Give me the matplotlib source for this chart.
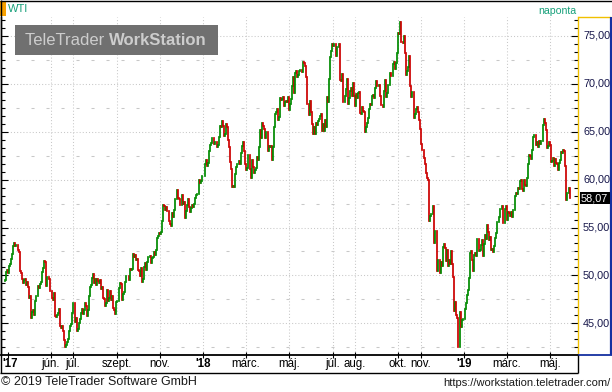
import numpy as np
import matplotlib
matplotlib.use("Agg")
import matplotlib.pyplot as plt
from matplotlib.ticker import MultipleLocator
from matplotlib.transforms import blended_transform_factory
from matplotlib.lines import Line2D
from matplotlib.patches import Rectangle

plt.rcParams['font.family'] = ['Liberation Sans', 'DejaVu Sans']
plt.rcParams['lines.scale_dashes'] = False

# ---------------- data (daily closes, weekdays) ----------------
start_date = '2017-03-29'
first_open = 49.37

close_2017 = [
    49.51, 50.35, 50.60,
    50.24, 51.03, 51.15, 51.70, 52.24, 53.08, 53.40, 53.11, 53.18, 53.18,
    52.65, 52.41, 50.44, 50.27, 49.62, 49.23, 49.56, 49.62, 48.97, 49.33,
    48.84, 47.66, 47.82, 45.52, 46.22, 46.43, 45.88, 47.33, 47.83, 47.84,
    48.85, 48.66, 49.07, 49.35, 50.33, 50.73, 51.47, 51.36, 48.90, 49.80,
    49.80, 49.66, 48.32,
    48.36, 47.66, 47.40, 48.19, 45.72, 45.64, 45.83, 46.08, 46.46, 44.73,
    44.46, 44.74, 44.20, 43.23, 42.53, 42.74, 43.01, 43.38, 44.24, 44.74,
    44.93, 46.04,
    47.07, 47.07, 45.13, 45.52, 44.23, 44.40, 45.04, 45.49, 46.08, 46.54,
    46.02, 46.40, 47.12, 46.79, 45.77, 46.34, 47.89, 48.75, 49.04, 49.71,
    50.17,
    49.16, 49.59, 49.03, 49.58, 49.39, 49.17, 49.56, 48.59, 48.82, 47.59,
    47.55, 46.78, 47.09, 48.51, 47.37, 47.64, 48.41, 47.43, 47.87, 46.57,
    46.44, 45.96, 47.23,
    47.29, 47.29, 48.66, 49.16, 49.09, 47.48, 48.07, 48.23, 49.30, 49.89,
    49.89, 49.91, 49.48, 50.69, 50.55, 50.66, 52.22, 51.88, 52.14, 51.56,
    51.67,
    50.58, 50.42, 49.98, 50.79, 49.29, 49.58, 50.92, 51.30, 50.60, 51.45,
    51.87, 51.88, 52.04, 51.29, 51.84, 51.90, 52.47, 52.18, 52.64, 53.90,
    54.15, 54.38,
    54.30, 54.54, 55.64, 57.35, 57.20, 56.81, 57.17, 56.74, 56.76, 55.70,
    55.33, 55.14, 56.55, 56.09, 56.83, 58.02, 58.02, 58.95, 58.11, 57.99,
    57.30, 57.40,
    58.36, 57.47, 57.62, 55.96, 56.69, 57.36, 57.99, 57.14, 56.60, 57.04,
    57.30, 57.16, 57.46, 58.09, 58.36, 58.47, 58.47, 59.97, 59.64, 59.84,
    60.42,
]

close_2018 = [
    60.42, 60.37, 61.63, 62.01, 61.44, 61.73, 62.96, 63.57, 63.80, 64.30,
    64.30, 63.73, 63.97, 63.95, 63.37, 63.57, 64.47, 65.61, 65.51, 66.14,
    65.56, 64.50, 64.73,
    65.80, 65.45, 64.15, 63.39, 61.79, 61.15, 59.20, 59.29, 59.19, 60.60,
    61.34, 61.68, 61.68, 61.90, 61.68, 62.77, 63.55, 63.91, 63.01, 61.64,
    60.99, 61.25, 62.57, 62.60, 61.15, 60.12, 62.04, 61.36, 60.71, 60.96,
    61.19, 62.34, 62.06, 63.40, 65.17, 64.30, 65.88, 65.55, 65.25, 64.38,
    64.94, 64.94,
    63.01, 63.51, 63.37, 63.54, 62.06, 63.42, 65.51, 66.82, 67.07, 67.39,
    66.22, 66.52, 68.47, 68.29, 68.38, 68.64, 67.70, 68.05, 68.19, 68.10,
    68.57,
    67.25, 67.93, 68.43, 69.72, 70.73, 69.06, 71.14, 71.36, 70.70, 70.96,
    71.31, 71.49, 71.49, 71.28, 72.24, 72.13, 71.84, 70.71, 67.88, 67.88,
    66.73, 68.21, 67.04,
    65.81, 64.75, 65.52, 64.73, 65.95, 65.74, 66.10, 66.36, 66.64, 66.89,
    65.06, 65.85, 65.07, 66.22, 65.54, 68.58, 68.08, 70.53, 72.76, 73.45,
    74.15,
    73.94, 74.14, 74.14, 72.94, 73.80, 73.85, 74.11, 70.38, 70.33, 71.01,
    68.06, 68.08, 68.76, 69.46, 70.46, 67.89, 68.52, 69.30, 69.61, 68.69,
    70.13, 68.76,
    67.66, 68.96, 68.49, 69.01, 69.17, 66.94, 66.81, 67.63, 67.20, 67.04,
    65.01, 65.46, 65.91, 66.43, 67.35, 67.86, 67.83, 68.72, 68.87, 68.53,
    69.51, 70.25, 69.80,
    69.80, 69.87, 68.72, 67.77, 67.75, 67.54, 69.25, 70.37, 68.59, 68.99,
    69.85, 69.85, 71.12, 70.80, 70.78, 72.08, 72.28, 71.57, 72.12, 73.25,
    75.30, 75.23, 76.41, 74.33, 74.34, 74.29, 74.96, 73.17, 70.97, 71.34,
    71.78, 72.92, 69.75, 68.65, 69.12, 69.17, 66.43, 66.82, 67.33, 67.59,
    67.04, 66.18, 65.31,
    63.69, 63.14, 63.10, 62.21, 61.67, 60.67, 60.19, 59.93, 55.69, 56.25,
    56.46, 56.46, 57.20, 53.43, 54.63, 54.63, 50.42, 51.63, 51.56, 50.29,
    51.45, 50.93,
    52.95, 53.25, 52.89, 51.49, 52.61, 51.00, 51.65, 51.15, 52.58, 51.20,
    49.88, 46.24, 47.20, 45.88, 45.59, 42.53, 42.53, 46.22, 44.61, 45.33,
    45.41,
]

close_2019 = [
    45.41, 46.54, 47.09, 47.96, 48.52, 49.78, 52.36, 52.59, 51.59, 50.51,
    52.11, 52.31, 52.07, 53.80, 53.80, 52.57, 52.62, 53.13, 53.69, 51.99,
    53.31, 54.23, 53.79,
    55.26, 54.56, 53.66, 54.01, 52.64, 52.72, 52.41, 53.10, 53.90, 54.41,
    55.59, 55.59, 56.09, 56.92, 56.96, 57.26, 55.48, 55.50, 56.94, 57.22,
    55.80, 56.59, 56.56, 56.22, 56.66, 56.07, 56.79, 56.87, 58.26, 58.61,
    58.52, 59.09, 59.03, 59.83, 59.98, 59.04, 58.82, 59.94, 59.41, 59.30,
    60.14,
    61.59, 62.58, 62.46, 62.10, 63.08, 64.40, 64.61, 64.61, 63.58, 63.89,
    63.40, 64.05, 63.76, 64.00, 64.00, 65.70, 66.30, 65.89, 65.21, 63.30,
    63.50, 63.91,
    63.60, 61.81, 61.94, 62.25, 61.40, 62.12, 61.70, 61.66, 61.04, 61.78,
    62.02, 62.87, 62.76, 63.10, 62.99, 61.42, 57.91, 58.63, 58.63, 59.14,
    58.07,
]

tick_months = ['2017-04', '2017-06', '2017-07', '2017-09', '2017-11',
               '2018-01', '2018-03', '2018-05', '2018-07', '2018-08',
               '2018-10', '2018-11', '2019-01', '2019-03', '2019-05']
tick_labels = ["'17", "jún.", "júl.", "szept.", "nov.", "'18", "márc.",
               "máj.", "júl.", "aug.", "okt.", "nov.", "'19", "márc.", "máj."]

# ---------------- derived ----------------
closes = np.array(close_2017 + close_2018 + close_2019)
opens = np.concatenate([[first_open], closes[:-1]])
base = np.datetime64('2017-03-27')
first_idx = np.busday_count(base, np.datetime64(start_date))
x = first_idx + np.arange(len(closes))
lo = np.minimum(opens, closes)
hi = np.maximum(opens, closes)
up = closes >= opens
cols = np.where(up, '#008a00', '#cc0000')

tick_pos = [np.busday_count(base, np.busday_offset(np.datetime64(m + '-01'), 0, roll='forward'))
            for m in tick_months]

# ---------------- figure ----------------
W, H = 612, 392
fig = plt.figure(figsize=(W / 100, H / 100), dpi=100)
fig.patch.set_facecolor('white')

def fx(px):
    return px / W

def fy(py):
    return 1 - py / H

L, R, T, B = 0.5, 578.0, 17.0, 354.5
ax = fig.add_axes([fx(L), fy(B), fx(R) - fx(L), fy(T) - fy(B)])
ax.set_facecolor('white')

ax.set_xlim(L - 3, R - 3)
ppd = 9.58
ax.set_ylim(45 - (B - 323.3) / ppd, 45 + (323.3 - T) / ppd)

gcol = '#c8c8c8'
for v in np.arange(45, 80, 5):
    ax.axhline(v, color=gcol, lw=0.75, ls=(0, (0.75, 1.5)), zorder=0)
for v in np.arange(42.5, 80, 5):
    ax.axhline(v, color=gcol, lw=0.75, ls=(10.8, (2.2, 8.6)), zorder=0)
for p in tick_pos[1:]:
    ax.axvline(p, color=gcol, lw=0.75, ls=(0, (0.75, 1.5)), zorder=0)

lc = ax.vlines(x, lo, hi, colors=cols, linewidth=1.25, zorder=3)
lc.set_capstyle('projecting')

ax.yaxis.set_major_locator(MultipleLocator(5))
ax.yaxis.set_minor_locator(MultipleLocator(5 / 6))
ax.tick_params(axis='y', which='both', direction='in', left=True, right=True,
               labelleft=False, labelright=False, color='black', width=0.8)
ax.tick_params(axis='y', which='major', length=5)
ax.tick_params(axis='y', which='minor', length=3)
ax.set_xticks(tick_pos)
ax.tick_params(axis='x', which='major', direction='inout', length=4, width=0.8,
               labelbottom=False, color='black')

ax.spines['top'].set_visible(False)
ax.spines['left'].set_color('black')
ax.spines['left'].set_linewidth(1.0)
ax.spines['right'].set_color('#f0c000')
ax.spines['right'].set_linewidth(1.0)
ax.spines['bottom'].set_color('black')
ax.spines['bottom'].set_linewidth(1.3)

# date labels
bt = blended_transform_factory(ax.transData, ax.transAxes)
ylab = (B - 364) / (B - T)
for k, (p, lab) in enumerate(zip(tick_pos, tick_labels)):
    if k == 0:
        fig.text(fx(2), fy(364), lab, ha='left', va='center', fontsize=8.3,
                 fontweight='bold', color='black')
        continue
    ax.text(p, ylab, lab, transform=bt, ha='center', va='center',
            fontsize=8.3, fontweight='bold' if lab.startswith("'") else 'normal',
            color='black', clip_on=False)

# right price labels
rt = blended_transform_factory(fig.transFigure, ax.transData)
for v in np.arange(45, 80, 5):
    fig.text(fx(583), v, f'{v:.2f}'.replace('.', ','), transform=rt,
             ha='left', va='center', fontsize=7.8, color='#16164a')

last = closes[-1]
fig.text(fx(581), last, f'{last:.2f}'.replace('.', ','), transform=rt,
         ha='left', va='center', fontsize=7.8, color='white',
         bbox=dict(boxstyle='square,pad=0.12', fc='black', ec='none'))

# frame lines (figure pixel coords)
def fline(x0, y0, x1, y1, color, lw):
    fig.add_artist(Line2D([fx(x0), fx(x1)], [fy(y0), fy(y1)], color=color,
                          lw=lw, solid_capstyle='butt', transform=fig.transFigure))

fline(0, 0.5, 612, 0.5, 'black', 1.0)
fline(0.5, 0, 0.5, 373, 'black', 1.0)
fline(578, 17, 610.5, 17, '#f0c000', 1.0)
fline(610.5, 17, 610.5, 355, '#1530a0', 1.6)
fline(578, 354.5, 611.5, 354.5, '#1530a0', 1.3)
fline(0, 373, 577.5, 373, 'black', 1.0)
fline(577.5, 354.5, 577.5, 373, 'black', 1.0)

# header
fig.add_artist(Rectangle((fx(0), fy(16)), fx(6), fy(1) - fy(16), fc='#f7a000', ec='none',
                         transform=fig.transFigure))
fig.text(fx(8), fy(9), 'WTI', ha='left', va='center', fontsize=8, color='#17a07a')
fig.text(fx(576), fy(10.5), 'naponta', ha='right', va='center', fontsize=7.6, color='#17a07a')

# watermark
fig.add_artist(Rectangle((fx(15), fy(55)), fx(218) - fx(15), fy(25) - fy(55), fc='#707070',
                         ec='none', transform=fig.transFigure, zorder=5))
fig.text(fx(25), fy(40.5), 'TeleTrader ', ha='left', va='center', fontsize=12,
         color='#cdcdcd', zorder=6)
fig.text(fx(207), fy(40.5), 'WorkStation', ha='right', va='center', fontsize=12,
         color='#cdcdcd', fontweight='bold', zorder=6)

# footer
fig.text(fx(1), fy(382), '\u00a9 2019 TeleTrader Software GmbH', ha='left', va='center',
         fontsize=9, color='#1a1a1a')
fig.text(fx(611), fy(382.5), 'https://workstation.teletrader.com/', ha='right', va='center',
         fontsize=8, color='#1a1a1a')

fig.savefig('out.png', dpi=100, facecolor='white')
